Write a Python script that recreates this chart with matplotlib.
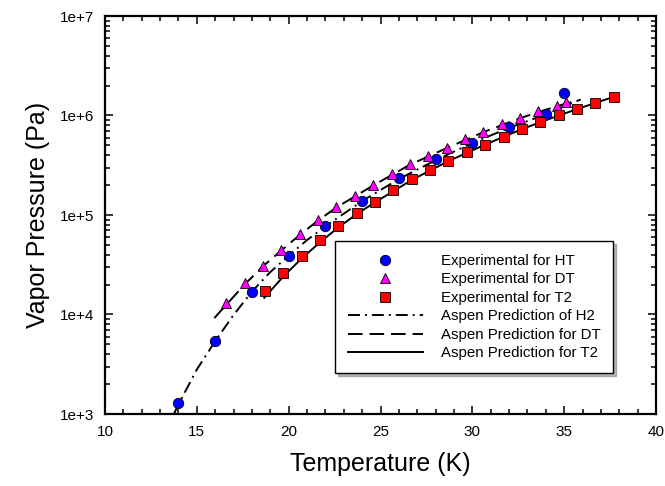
import matplotlib
matplotlib.use('Agg')
import matplotlib.pyplot as plt
from matplotlib.ticker import MultipleLocator, LogLocator, FixedLocator, FixedFormatter, NullFormatter

plt.rcParams['font.family'] = ['Liberation Sans', 'DejaVu Sans']
plt.rcParams['lines.scale_dashes'] = False

# Experimental data
ht_T = [14, 16, 18, 20, 22, 24, 26, 28, 30, 32, 34, 35]
ht_P = [1.3e3, 5.4e3, 1.7e4, 3.9e4, 7.75e4, 1.39e5, 2.34e5, 3.63e5, 5.33e5, 7.6e5, 1.03e6, 1.69e6]

dt_T = [16.6, 17.6, 18.6, 19.6, 20.6, 21.6, 22.6, 23.6, 24.6, 25.6, 26.6, 27.6,
        28.6, 29.6, 30.6, 31.6, 32.6, 33.6, 34.6, 35.1]
dt_P = [1.3e4, 2.06e4, 3.1e4, 4.45e4, 6.5e4, 9.0e4, 1.21e5, 1.55e5, 2.0e5, 2.58e5,
        3.24e5, 3.92e5, 4.75e5, 5.77e5, 6.9e5, 8.2e5, 9.5e5, 1.1e6, 1.25e6, 1.38e6]

t2_T = [18.7, 19.7, 20.7, 21.7, 22.7, 23.7, 24.7, 25.7, 26.7, 27.7, 28.7, 29.7,
        30.7, 31.7, 32.7, 33.7, 34.7, 35.7, 36.7, 37.7]
t2_P = [1.73e4, 2.63e4, 3.87e4, 5.6e4, 7.8e4, 1.04e5, 1.36e5, 1.78e5, 2.28e5, 2.83e5,
        3.51e5, 4.27e5, 5.1e5, 6.1e5, 7.3e5, 8.67e5, 1.01e6, 1.16e6, 1.35e6, 1.55e6]

# Aspen predictions
h2_line_T = [13.75, 14, 15, 16, 17, 18, 19, 20, 21, 22, 24, 26, 28, 30, 32, 34, 35.9]
h2_line_P = [1.0e3, 1.25e3, 2.8e3, 5.4e3, 9.9e3, 1.7e4, 2.67e4, 3.9e4, 5.6e4, 7.7e4,
             1.38e5, 2.3e5, 3.55e5, 5.3e5, 7.5e5, 1.03e6, 1.45e6]

dt_line_T = [15.95, 16.6, 17.6, 18.6, 19.6, 20.6, 21.6, 22.6, 24.6, 26.6, 28.6, 30.6,
             32.6, 34.6, 35.5]
dt_line_P = [9.2e3, 1.25e4, 2.0e4, 3.05e4, 4.4e4, 6.3e4, 8.8e4, 1.19e5, 1.98e5, 3.2e5,
             4.7e5, 6.8e5, 9.4e5, 1.24e6, 1.38e6]

t2_line_T = [18.67, 19.7, 20.7, 21.7, 22.7, 23.7, 24.7, 26.7, 28.7, 30.7, 32.7, 34.7,
             36.7, 37.9]
t2_line_P = [1.47e4, 2.4e4, 3.65e4, 5.3e4, 7.5e4, 1.02e5, 1.34e5, 2.25e5, 3.48e5,
             5.1e5, 7.3e5, 1.0e6, 1.34e6, 1.58e6]

y_ticks = [1e3, 1e4, 1e5, 1e6, 1e7]
y_tick_labels = ['1e+3', '1e+4', '1e+5', '1e+6', '1e+7']

fig = plt.figure(figsize=(6.65, 4.86), dpi=100)
ax = fig.add_axes([105/665, 1-414/486, (656-105)/665, (414-16)/486])

lw = 1.4
l1, = ax.plot(h2_line_T, h2_line_P, color='black', lw=lw, dashes=(8.6, 3.6, 1.4, 3.6),
              label='Aspen Prediction of H2', zorder=2)
l2, = ax.plot(dt_line_T, dt_line_P, color='black', lw=lw, dashes=(10.5, 5),
              label='Aspen Prediction for DT', zorder=2)
l3, = ax.plot(t2_line_T, t2_line_P, color='black', lw=lw, ls='-',
              label='Aspen Prediction for T2', zorder=2)

m1, = ax.plot(ht_T, ht_P, 'o', color='#0000FF', mec='black', mew=0.6, ms=7.5,
              ls='none', label='Experimental for HT', zorder=3)
m2, = ax.plot(dt_T, dt_P, '^', color='#FF00FF', mec='black', mew=0.6, ms=7.5,
              ls='none', label='Experimental for DT', zorder=3)
m3, = ax.plot(t2_T, t2_P, 's', color='#FF0000', mec='black', mew=0.6, ms=6.5,
              ls='none', label='Experimental for T2', zorder=3)

ax.set_xscale('linear')
ax.set_yscale('log')
ax.set_xlim(10, 40)
ax.set_ylim(1e3, 1e7)

ax.xaxis.set_major_locator(MultipleLocator(5))
ax.xaxis.set_minor_locator(MultipleLocator(1))
ax.yaxis.set_major_locator(FixedLocator(y_ticks))
ax.yaxis.set_major_formatter(FixedFormatter(y_tick_labels))
ax.yaxis.set_minor_locator(LogLocator(base=10, subs=range(2, 10)))
ax.yaxis.set_minor_formatter(NullFormatter())

for s in ax.spines.values():
    s.set_linewidth(1.6)

ax.tick_params(which='both', direction='in', top=True, right=True, width=1.1)
ax.tick_params(which='major', length=6)
ax.tick_params(which='minor', length=3.5)
ax.tick_params(axis='x', which='major', labelsize=11, pad=8)
ax.tick_params(axis='y', which='major', labelsize=11, pad=8)

ax.set_xlabel('Temperature (K)', fontsize=18)
ax.set_ylabel('Vapor Pressure (Pa)', fontsize=18)
ax.xaxis.set_label_coords(0.5, -0.095)
ax.yaxis.set_label_coords(-0.10, 0.5)

leg = fig.legend(handles=[m1, m2, m3, l1, l2, l3], loc='upper left',
                 bbox_to_anchor=(335/665, 1-241/486), borderaxespad=0,
                 fontsize=10.8, frameon=True, fancybox=False, edgecolor='black',
                 handlelength=5.0, handletextpad=1.2, labelspacing=0.3,
                 borderpad=0.85, numpoints=1, shadow={'color': '0.45'})
leg.get_frame().set_linewidth(1.0)

fig.savefig('out.png', dpi=100)
